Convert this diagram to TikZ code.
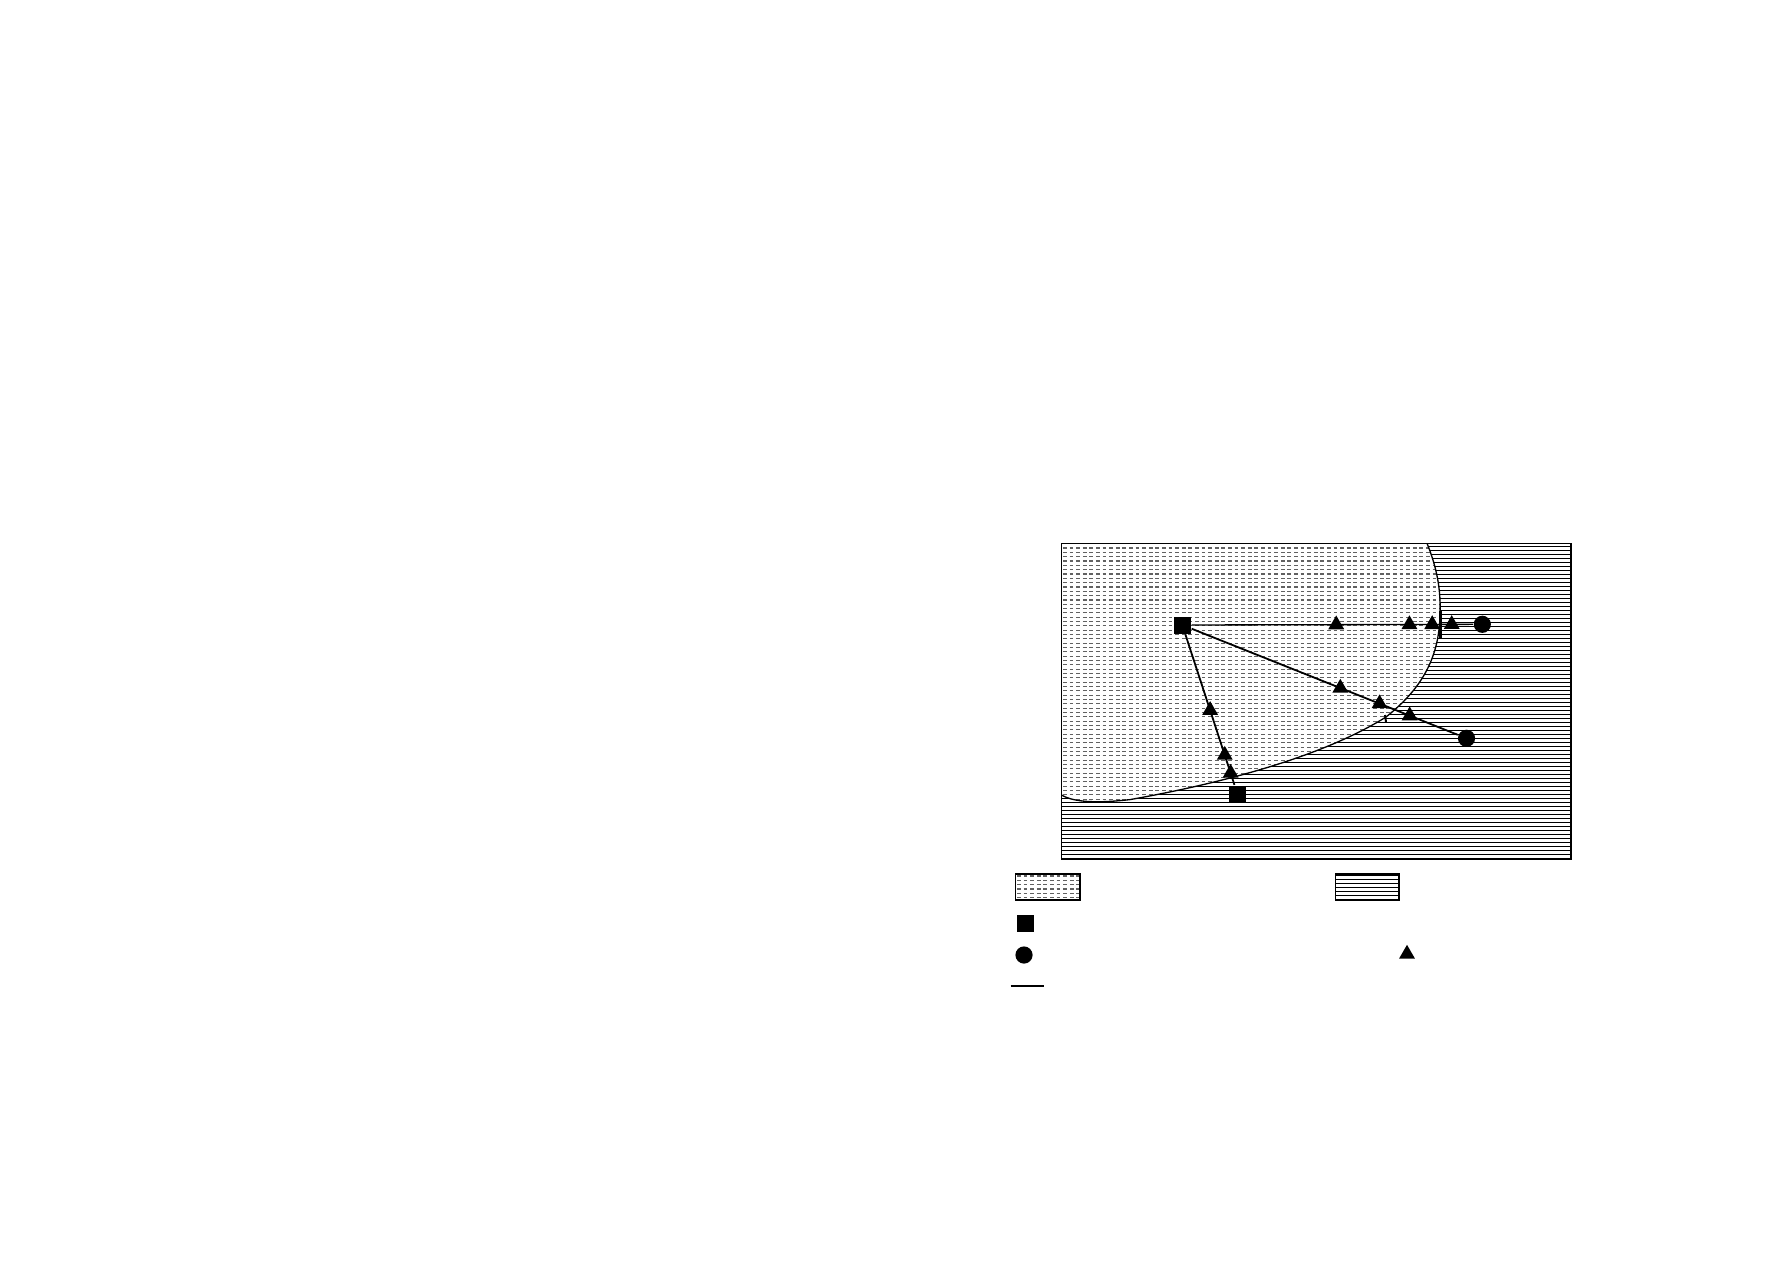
\documentclass[tikz,border=0pt]{standalone}
\usetikzlibrary{calc, shapes.geometric}

\tikzset{
	sq/.style={rectangle, fill=black, inner sep=0pt, minimum size=4.25pt},
	dot/.style={circle, fill=black, inner sep=0pt, minimum size=4.3pt},
	tri/.style={regular polygon, regular polygon sides=3, fill=black, inner sep=0pt, minimum size=4.6pt},
	hline/.style={line width=0.25pt},
	drow/.style={line width=0.27pt, black!62, dash pattern=on 0.95pt off 0.7pt},
	boxline/.style={line width=0.4pt},
	link/.style={line width=0.45pt},
	thinlink/.style={line width=0.33pt},
}

\begin{document}
\begin{tikzpicture}[x=0.25pt, y=-0.25pt]
	\useasboundingbox (0,0) rectangle (1787,1263);
	\coordinate (F1) at (1061.5,543.3);
	\coordinate (F2) at (1571,858.7);
	\coordinate (k0) at (1427,543.3);
	\coordinate (k1) at (1440,615);
	\coordinate (k2) at (1386,717);
	\coordinate (k3) at (1130,799.6);
	\coordinate (k4) at (1061.5,795);
	% lined area
	\begin{scope}
		\clip (F1) rectangle (F2);
		\foreach \y in {546,550,...,858}
			\draw[hline] (1050,\y) -- (1580,\y);
	\end{scope}
	% dotted area
	\begin{scope}
		\clip (F1) -- (k0) .. controls (1437,568) and (1441,590) .. (k1)
			.. controls (1439,660) and (1420,690) .. (k2)
			.. controls (1330,752) and (1240,780) .. (k3)
			.. controls (1100,803) and (1075,803) .. (k4) -- cycle;
		\fill[white] (F1) rectangle (F2);
		\foreach \y in {548,552.33,...,806}
			\draw[drow] (1063,\y) -- (1450,\y);
	\end{scope}
	\draw[thinlink] (k0) .. controls (1437,568) and (1441,590) .. (k1)
		.. controls (1439,660) and (1420,690) .. (k2)
		.. controls (1330,752) and (1240,780) .. (k3)
		.. controls (1100,803) and (1075,803) .. (k4);
	\draw[boxline] (F1) rectangle (F2);

	% stations and routes
	\node[sq] (P) at (1182.3,625) {};
	\node[sq] (Q) at (1237.5,794.2) {};
	\node[dot] (R) at (1482.3,624.3) {};
	\node[dot] (S) at (1466.5,738.3) {};
	\draw[thinlink] (P) -- (R);
	\draw[link] (P) -- (S);
	\draw[link] (P) -- (Q);
	\foreach \t [count=\i] in {0.513,0.757,0.833,0.898}
		\node[tri] (a\i) at ($(P)!\t!(R)$) {};
	\foreach \t [count=\i] in {0.556,0.694,0.80}
		\node[tri] (b\i) at ($(P)!\t!(S)$) {};
	\foreach \t [count=\i] in {0.504,0.769,0.875}
		\node[tri] (c\i) at ($(P)!\t!(Q)$) {};
	\draw[line width=0.75pt] (1440,611.4) -- (1440,638.3);
	\draw[line width=0.5pt] (1385,715) -- (1386,722);

	% legend
	\coordinate (D1) at (1015.4,874);
	\coordinate (D2) at (1079.8,900);
	\coordinate (H1) at (1335.3,874);
	\coordinate (H2) at (1399,900);
	\begin{scope}
		\clip (D1) rectangle (D2);
		\foreach \y in {876,880.33,...,899}
			\draw[drow] (1017,\y) -- (1080,\y);
	\end{scope}
	\draw[boxline] (D1) rectangle (D2);
	\begin{scope}
		\clip (H1) rectangle (H2);
		\foreach \y in {875,879,...,899}
			\draw[hline] (1330,\y) -- (1400,\y);
	\end{scope}
	\draw[boxline] (H1) rectangle (H2);
	\node[sq] (ls) at (1025,923) {};
	\node[dot] (lc) at (1024,955) {};
	\node[tri] (lt) at (1407,954) {};
	\coordinate (L1) at (1010.7,986);
	\coordinate (L2) at (1044.1,986);
	\draw[line width=0.7pt] (L1) -- (L2);
\end{tikzpicture}
\end{document}
